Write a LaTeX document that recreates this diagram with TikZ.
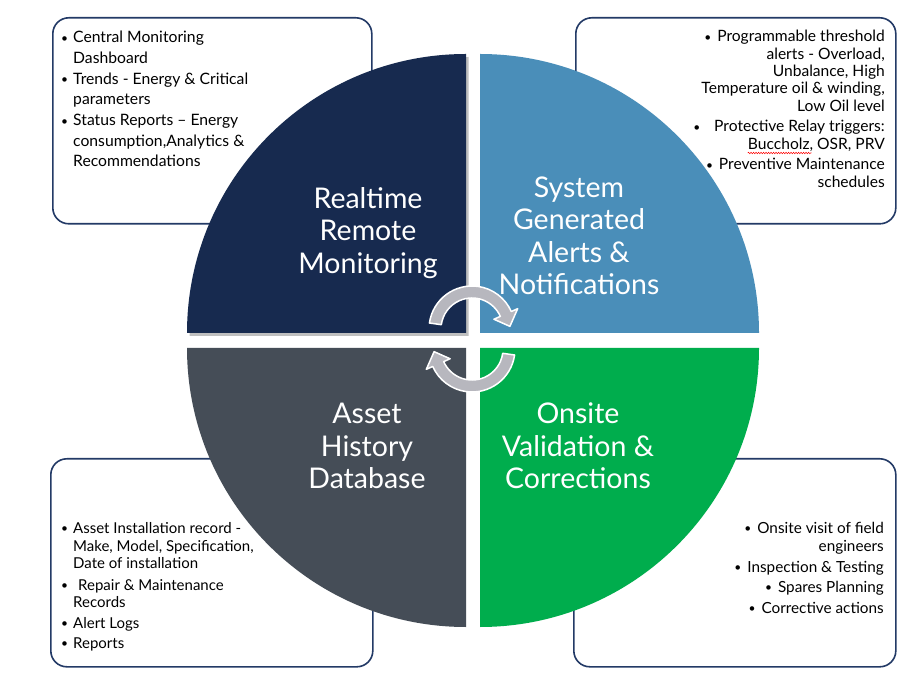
\documentclass[tikz,border=0pt]{standalone}
\usepackage{fontspec}
\setmainfont{Lato}
\usetikzlibrary{decorations.pathmorphing}
\definecolor{qnavy}{HTML}{172A4F}
\definecolor{qblue}{HTML}{4A8EB9}
\definecolor{qgray}{HTML}{454D57}
\definecolor{qgreen}{HTML}{00AD4D}
\definecolor{boxline}{HTML}{233A66}
\definecolor{arrowgray}{HTML}{B7B7BE}
\newcommand{\bul}{\raisebox{0.6pt}{\fontsize{12}{12}\selectfont •}}
\begin{document}
\begin{tikzpicture}[x=1pt,y=1pt,
  infobox/.style={draw=boxline, line width=1.6pt, rounded corners=16pt, fill=white, anchor=north west, inner sep=0pt},
  qtitle/.style={text=white, font=\fontsize{28.5}{32.5}\selectfont, align=center, inner sep=0pt},
  ltext/.style={anchor=base west, inner sep=0pt, font=\fontsize{15.7}{18}\selectfont},
  rtext/.style={anchor=base east, inner sep=0pt, font=\fontsize{15.6}{18}\selectfont},
  cyc/.style={fill=arrowgray, draw=white, line width=1.5pt, line join=round}]

\fill[white] (0,0) rectangle (923,691);
\useasboundingbox (0,0) rectangle (923,691);

% info boxes
\node[infobox, minimum width=319pt, minimum height=206pt] (boxTL) at (52,674) {};
\node[infobox, minimum width=320pt, minimum height=206pt] (boxTR) at (575,674) {};
\node[infobox, minimum width=322pt, minimum height=208pt] (boxBL) at (50,233) {};
\node[infobox, minimum width=322pt, minimum height=208pt] (boxBR) at (573,233) {};

% quadrants
\fill[black, opacity=0.25] (468.5,355) -- (189.5,355) arc[start angle=180,end angle=90,radius=279pt] -- cycle;
\fill[qnavy] (466,358) -- (187,358) arc[start angle=180,end angle=90,radius=279pt] -- cycle;
\fill[qblue] (480,358) -- (480,637) arc[start angle=90,end angle=0,radius=279pt] -- cycle;
\fill[qgray] (466,343) -- (187,343) arc[start angle=180,end angle=270,radius=279pt] -- cycle;
\fill[qgreen] (480,343) -- (759,343) arc[start angle=0,end angle=-90,radius=279pt] -- cycle;

% titles
\node[qtitle] (tRRM) at (368,458) {Realtime\\Remote\\Monitoring};
\node[qtitle] (tSGA) at (579,455) {System\\Generated\\Alerts \&\\Notifications};
\node[qtitle] (tAHD) at (367,245) {Asset\\History\\Database};
\node[qtitle] (tOVC) at (578,245) {Onsite\\Validation \&\\Corrections};

% top-left text
\foreach \txt/\yy [count=\n] in {
  {\llap{\bul\hspace{5pt}}Central Monitoring}/648,
  {Dashboard}/627.3,
  {\llap{\bul\hspace{5pt}}Trends - Energy \& Critical}/606.7,
  {parameters}/586,
  {\llap{\bul\hspace{5pt}}Status Reports – Energy}/565.3,
  {consumption,Analytics \&}/544.7,
  {Recommendations}/524}
  \node[ltext] (tl\n) at (73,\yy) {\txt};

% top-right text
\foreach \txt/\yy [count=\n] in {
  {\bul\hspace{6pt}Programmable threshold}/649,
  {alerts - Overload,}/631,
  {Unbalance, High}/614,
  {Temperature oil \& winding,}/597,
  {Low Oil level}/579,
  {\bul\hspace{14pt}Protective Relay triggers:}/559,
  {Buccholz, OSR, PRV}/541,
  {\bul\hspace{6pt}Preventive Maintenance}/521,
  {schedules}/503}
  \node[rtext] (tr\n) at (885,\yy) {\txt};
\draw[red, line width=0.5pt, decorate, decoration={snake, amplitude=0.7pt, segment length=2.5pt}]
  ([yshift=-3pt]tr7.base west) -- ++(64pt,0);

% bottom-left text
\foreach \txt/\yy [count=\n] in {
  {\llap{\bul\hspace{5pt}}Asset Installation record -}/158,
  {Make, Model, Specification,}/140,
  {Date of installation}/122.5,
  {\llap{\bul\hspace{5pt}}\hspace{5pt}Repair \& Maintenance}/101,
  {Records}/83.5,
  {\llap{\bul\hspace{5pt}}Alert Logs}/63,
  {\llap{\bul\hspace{5pt}}Reports}/43}
  \node[ltext, font=\fontsize{15}{18}\selectfont] (bl\n) at (73,\yy) {\txt};

% bottom-right text
\foreach \txt/\yy [count=\n] in {
  {\bul\hspace{6pt}Onsite visit of field}/158,
  {engineers}/140,
  {\bul\hspace{6pt}Inspection \& Testing}/119,
  {\bul\hspace{6pt}Spares Planning}/99,
  {\bul\hspace{6pt}Corrective actions}/78}
  \node[rtext, font=\fontsize{15.3}{18}\selectfont] (br\n) at (884,\yy) {\txt};

% cycle arrows
\coordinate (c1) at (472,362);
\coordinate (c2) at (472,342);
\path[cyc] ([shift={(172:43pt)}]c1) arc[start angle=172,end angle=24,radius=43pt]
  -- ([shift={(24:50pt)}]c1) -- ([shift={(4:38pt)}]c1) -- ([shift={(24:24pt)}]c1)
  -- ([shift={(24:31pt)}]c1) arc[start angle=24,end angle=172,radius=31pt] -- cycle;
\path[cyc] ([shift={(-8:43pt)}]c2) arc[start angle=-8,end angle=-156,radius=43pt]
  -- ([shift={(-156:50pt)}]c2) -- ([shift={(-176:38pt)}]c2) -- ([shift={(-156:24pt)}]c2)
  -- ([shift={(-156:31pt)}]c2) arc[start angle=-156,end angle=-8,radius=31pt] -- cycle;
\end{tikzpicture}
\end{document}
